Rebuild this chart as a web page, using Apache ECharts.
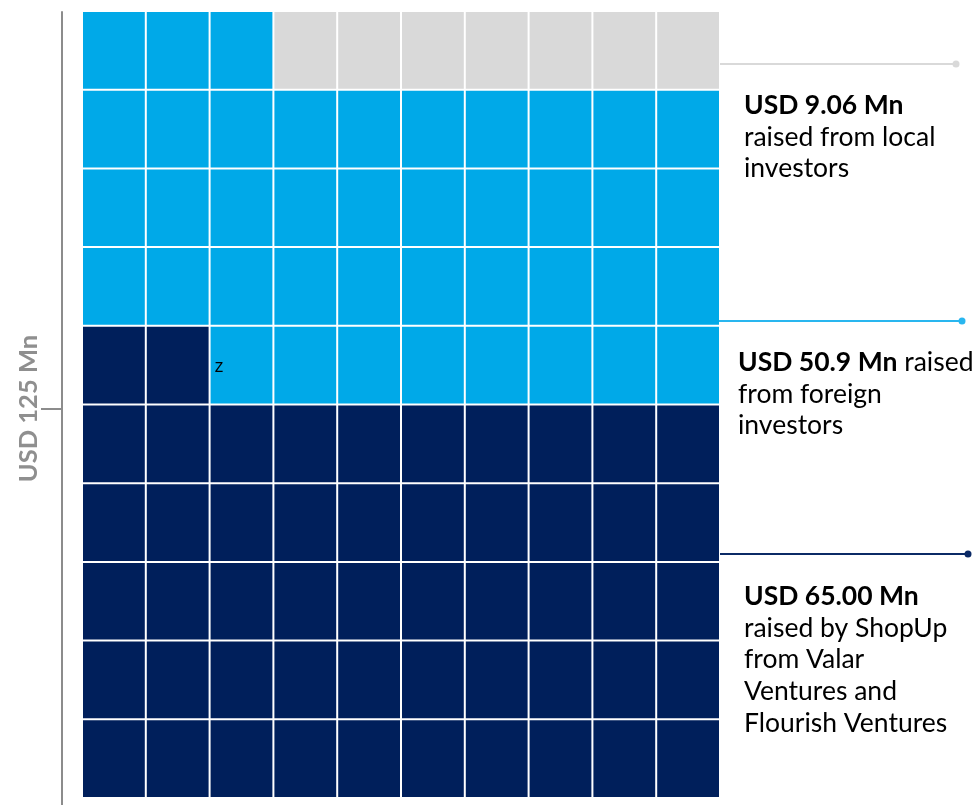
<!DOCTYPE html>
<html>
<head>
<meta charset="utf-8">
<script src="https://cdn.jsdelivr.net/npm/echarts@6/dist/echarts.min.js"></script>
<style>
html,body{margin:0;padding:0;background:#fff;}
#chart{width:975px;height:805px;}
</style>
</head>
<body>
<div id="chart"></div>
<script>
// ---- data ----
const categories = ['ShopUp from Valar Ventures and Flourish Ventures', 'Foreign investors', 'Local investors'];
const valuesMn = [65.00, 50.9, 9.06];
const totalLabel = 'USD 125 Mn';
const totalMn = 125;
const gridCols = 10;
const gridRows = 10;
const cellNote = 'z';
const annotationBold = ['USD 65.00 Mn', 'USD 50.9 Mn', 'USD 9.06 Mn'];
const annotationRest = [
  ['raised by ShopUp', 'from Valar', 'Ventures and', 'Flourish Ventures'],
  ['raised', 'from foreign', 'investors'],
  ['raised from local', 'investors']
];

// ---- derived ----
const colors = ['#001f5b', '#00a9e8', '#d9d9d9'];
const cellCounts = valuesMn.map(v => Math.round(v / totalMn * gridCols * gridRows));
const cells = [];
let idx = 0;
cellCounts.forEach((n, ci) => {
  for (let k = 0; k < n; k++) {
    const col = idx % gridCols;
    const row = Math.floor(idx / gridCols);
    cells.push([col, row, ci, idx]);
    idx++;
  }
});
const noteIndex = cellCounts[0]; // first cell of the second category

const chart = echarts.init(document.getElementById('chart'), null, {renderer: 'canvas'});
const textColor = '#111';
const font = 'Lato, "Open Sans", sans-serif';

function block(left, top, boldText, restLines, inlineFirst) {
  const rich = {
    b: {fontFamily: font, fontWeight: 'bold', fontSize: 26.5, color: textColor, lineHeight: 31.7},
    r: {fontFamily: font, fontWeight: 'normal', fontSize: 26.5, color: textColor, lineHeight: 31.7}
  };
  let txt;
  if (inlineFirst) {
    txt = '{b|' + boldText + '}{r| ' + restLines[0] + '}\n' + restLines.slice(1).map(l => '{r|' + l + '}').join('\n');
  } else {
    txt = '{b|' + boldText + '}\n' + restLines.map(l => '{r|' + l + '}').join('\n');
  }
  return {type: 'text', left: left, top: top, style: {text: txt, rich: rich}};
}
function leader(y, x1, x2, color) {
  return [
    {type: 'line', shape: {x1: x1, y1: y, x2: x2, y2: y}, style: {stroke: color, lineWidth: 2}},
    {type: 'circle', shape: {cx: x2, cy: y, r: 3.5}, style: {fill: color}}
  ];
}

const option = {
  backgroundColor: '#fff',
  animation: false,
  grid: [
    {left: 82, top: 11, width: 638, height: 787},
    {left: 62, top: 12, width: 1, height: 793}
  ],
  xAxis: [
    {type: 'value', gridIndex: 0, min: 0, max: gridCols, show: false},
    {type: 'value', gridIndex: 1, min: 0, max: 1, show: false}
  ],
  yAxis: [
    {type: 'value', gridIndex: 0, min: 0, max: gridRows, inverse: true, show: false},
    {
      type: 'value', gridIndex: 1, min: 0, max: 10, position: 'left',
      name: totalLabel, nameLocation: 'middle', nameGap: 20, nameRotate: 90,
      nameTextStyle: {color: '#8f8f8f', fontSize: 25.5, fontWeight: 'bold', fontFamily: font},
      axisLine: {show: true, lineStyle: {color: '#8c8c8c', width: 2}},
      axisTick: {show: true, length: 21, customValues: [5], lineStyle: {color: '#8c8c8c', width: 2}},
      axisLabel: {show: false},
      splitLine: {show: false}
    }
  ],
  series: [{
    type: 'custom',
    xAxisIndex: 0,
    yAxisIndex: 0,
    data: cells.map(c => [c[0], gridRows - 1 - c[1], c[2], c[3]]),
    renderItem: function (params, api) {
      const col = api.value(0), row = api.value(1), ci = api.value(2), id = api.value(3);
      const p0 = api.coord([col, row]);
      const p1 = api.coord([col + 1, row + 1]);
      const x = Math.min(p0[0], p1[0]), y = Math.min(p0[1], p1[1]);
      const w = Math.abs(p1[0] - p0[0]), h = Math.abs(p1[1] - p0[1]);
      const children = [{
        type: 'rect',
        shape: {x: x + 1, y: y + 1, width: w - 2, height: h - 2},
        style: {fill: colors[ci]}
      }];
      if (id === noteIndex) {
        children.push({
          type: 'text',
          style: {text: cellNote, x: x + 5, y: y + h / 2 + 1.5, verticalAlign: 'middle', align: 'left',
                  fill: '#000', fontSize: 19, fontFamily: '"Open Sans", sans-serif'}
        });
      }
      return {type: 'group', children: children};
    }
  }],
  graphic: [].concat(
    leader(64, 720, 956, '#d9d9d9'),
    leader(321, 713, 962, '#29b6ef'),
    leader(554, 720, 968, '#0b2a66'),
    [
      block(744, 92, annotationBold[2], annotationRest[2], false),
      block(738, 349, annotationBold[1], annotationRest[1], true),
      block(744, 583, annotationBold[0], annotationRest[0], false)
    ]
  )
};
chart.setOption(option);
</script>
</body>
</html>
